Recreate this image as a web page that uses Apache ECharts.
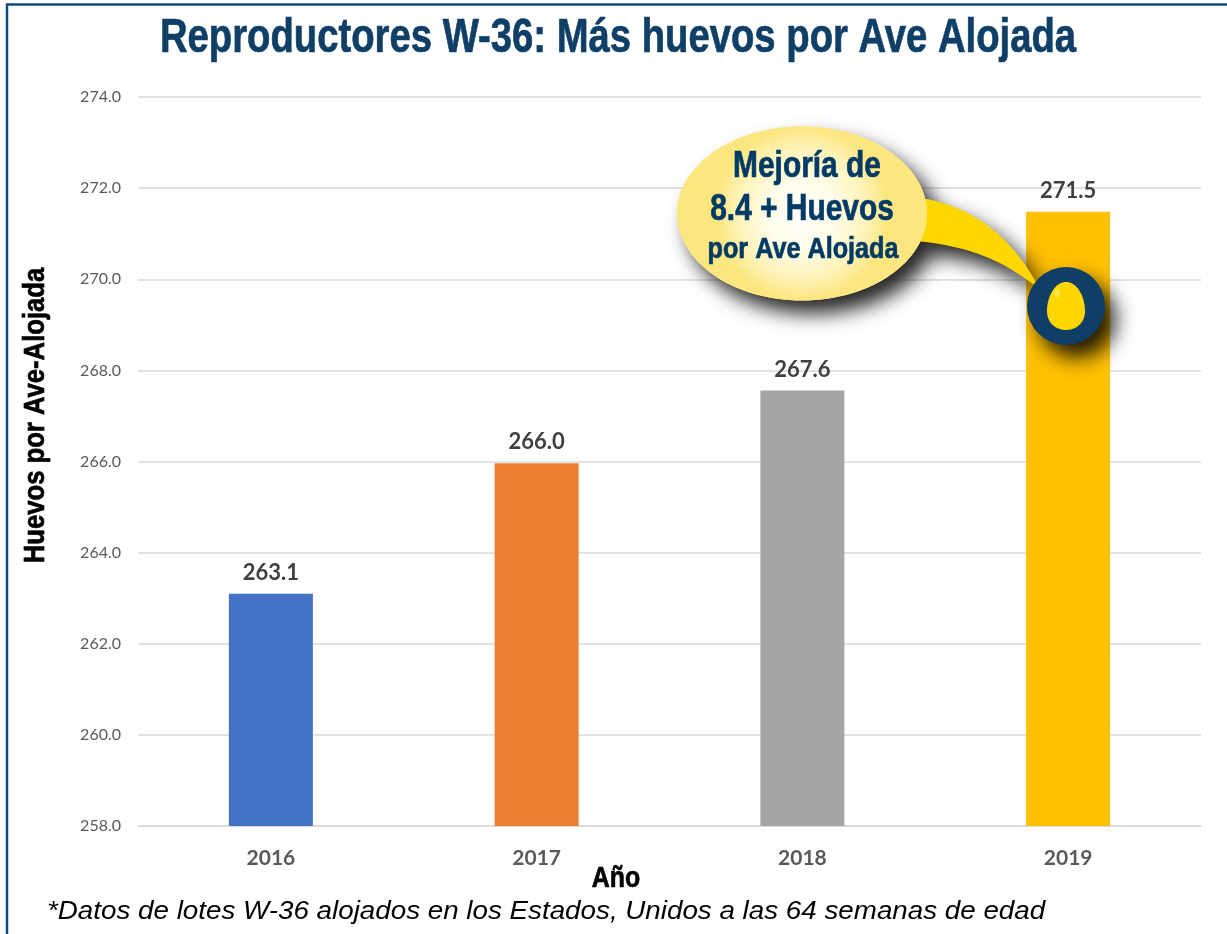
<!DOCTYPE html>
<html><head><meta charset="utf-8">
<style>html,body{margin:0;padding:0;background:#fff}#c{width:1227px;height:934px}</style>
<script src="https://cdn.jsdelivr.net/npm/echarts@6/dist/echarts.min.js"></script>
</head><body><div id="c"></div>
<script>
const titleText = 'Reproductores W-36: Más huevos por Ave Alojada';
const footnote = '*Datos de lotes W-36 alojados en los Estados, Unidos a las 64 semanas de edad';
const years = ['2016','2017','2018','2019'];
const values = [263.1,265.96,267.56,271.48];
const barColors = ['#4472C4','#ED7D31','#A5A5A5','#FFC000'];
const navy = '#0F3F66';
const sans = '"Liberation Sans",Arial,sans-serif';
const chart = echarts.init(document.getElementById('c'));
const shadow = {shadowColor:'rgba(0,0,0,0.85)',shadowBlur:20,shadowOffsetX:11,shadowOffsetY:13};
function bez(p0,p1,p2,p3,n=24){
  const out=[];
  for(let i=0;i<=n;i++){const t=i/n,u=1-t;
    out.push([0,1].map(k=>u*u*u*p0[k]+3*u*u*t*p1[k]+3*u*t*t*p2[k]+t*t*t*p3[k]));}
  return out;
}
const tail = bez([915,197],[975,205],[1015,240],[1040,290]).concat(bez([1040,290],[1005,260],[965,245],[915,241]));
const egg = bez([1066,282],[1078,282],[1085,298],[1085,311]).concat(bez([1085,311],[1085,323],[1076,330],[1066,330]),
  bez([1066,330],[1056,330],[1047,323],[1047,311]),bez([1047,311],[1047,298],[1054,282],[1066,282]));
const bubble = {cx:802,cy:213.5,rx:125,ry:87};
const bubbleFill = {type:'radial',x:0.5,y:0.5,r:0.5,colorStops:[{offset:0,color:'#FFFFFF'},{offset:0.4,color:'#FFFCE8'},{offset:0.75,color:'#FEF3B8'},{offset:1,color:'#FCE67F'}]};
const txt = (text,x,y,size,fill,extra={},weight='bold') => ({type:'text',silent:true,z:100,x,y,scaleX:0.83,...extra,
  style:{text,align:'center',verticalAlign:'middle',font:weight+' '+size+'px '+sans,fill,stroke:fill,lineWidth:0.7}});
chart.setOption({
  animation:false,
  backgroundColor:'#fff',
  grid:{left:138,right:26,top:97,bottom:108,containLabel:false},
  xAxis:{type:'category',data:years,
    axisLine:{lineStyle:{color:'#D9D9D9',width:1.5}},axisTick:{show:false},
    axisLabel:{margin:22,fontFamily:'Lato',fontWeight:'bold',fontSize:21,color:'#595959'}},
  yAxis:{type:'value',min:258,max:274,interval:2,
    axisLine:{show:false},axisTick:{show:false},
    splitLine:{lineStyle:{color:'#D9D9D9',width:1.5}},
    axisLabel:{margin:17,fontFamily:'Lato',fontSize:16,color:'#595959',padding:[2,0,0,0],formatter:v=>v.toFixed(1)}},
  series:[{type:'bar',barWidth:84,
    data:values.map((v,i)=>({value:v,itemStyle:{color:barColors[i]}})),
    label:{show:true,position:'top',distance:10,fontFamily:'Lato',fontWeight:'bold',fontSize:22,color:'#404040',formatter:p=>p.value.toFixed(1)}}],
  graphic:[
    {type:'rect',silent:true,z:1,shape:{x:7,y:4.5,width:1300,height:1000},style:{fill:'none',stroke:'#0F4C7A',lineWidth:2.5}},
    txt(titleText,618,39,48,navy,{scaleX:0.797}),
    {type:'text',silent:true,z:100,x:47,y:912,scaleX:1.068,style:{text:footnote,align:'left',verticalAlign:'middle',font:'italic 26px '+sans,fill:'#000'}},
    txt('Año',616,879,30,'#000'),
    txt('Huevos por Ave-Alojada',36,415.5,30,'#000',{rotation:Math.PI/2,scaleX:0.855}),
    {type:'ellipse',silent:true,z:49,shape:bubble,style:{fill:bubbleFill,...shadow}},
    {type:'polygon',silent:true,z:50,shape:{points:tail},style:{fill:'#FFD700',...shadow}},
    {type:'ellipse',silent:true,z:51,shape:bubble,style:{fill:bubbleFill}},
    {type:'circle',silent:true,z:52,shape:{cx:1066,cy:306,r:39},style:{fill:navy,...shadow}},
    {type:'polygon',silent:true,z:53,shape:{points:egg},style:{fill:'#FFD700'}},
    {type:'ellipse',silent:true,z:54,shape:{cx:1057,cy:293,rx:3,ry:4},style:{fill:'#FFE84D'}},
    txt('Mejoría de',807,167,36,'#023A66'),
    txt('8.4 + Huevos',802,210,36,'#023A66'),
    txt('por Ave Alojada',803,250,30,'#023A66',{scaleX:0.84})
  ]
});
</script></body></html>
